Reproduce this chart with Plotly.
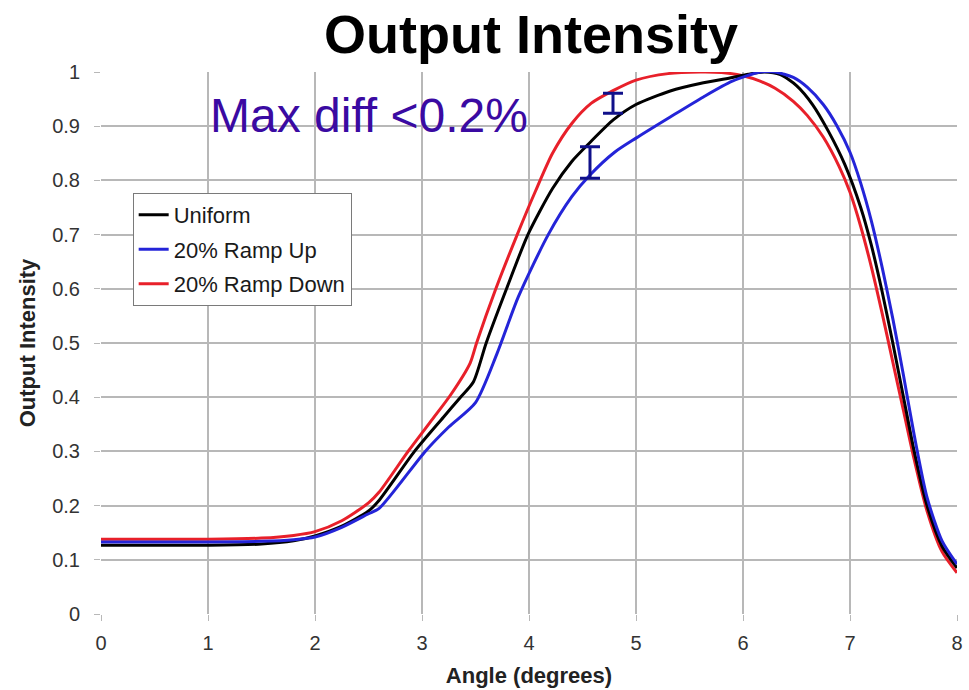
import plotly.graph_objects as go

# Angle (degrees) / output intensity samples for each illumination profile
uniform_x = [0, 0.5, 1.0, 1.5, 1.8, 2.0, 2.25, 2.5, 2.6, 2.93, 3.2, 3.36, 3.48, 3.6, 3.79, 3.99,
             4.22, 4.4, 4.57, 4.79, 5.0, 5.32, 5.63, 5.9, 6.05, 6.2, 6.35, 6.5, 6.65, 6.8, 6.95,
             7.1, 7.2, 7.3, 7.4, 7.5, 7.6, 7.72, 7.86, 8.0]
uniform_y = [0.127, 0.127, 0.127, 0.129, 0.135, 0.144, 0.162, 0.19, 0.21, 0.30, 0.363, 0.40, 0.428,
             0.50, 0.60, 0.70, 0.785, 0.835, 0.87, 0.912, 0.94, 0.965, 0.98, 0.99, 0.996, 1.0,
             0.995, 0.975, 0.94, 0.89, 0.83, 0.75, 0.68, 0.595, 0.50, 0.40, 0.30, 0.20, 0.125, 0.085]

ramp_up_x = [0, 0.5, 1.0, 1.5, 1.8, 2.0, 2.25, 2.5, 2.6, 3.03, 3.25, 3.5, 3.7, 3.9, 4.18, 4.4,
             4.57, 4.8, 5.0, 5.32, 5.63, 5.9, 6.16, 6.3, 6.47, 6.6, 6.75, 6.88, 7.0, 7.1, 7.2, 7.3,
             7.4, 7.5, 7.6, 7.72, 7.86, 8.0]
ramp_up_y = [0.133, 0.133, 0.133, 0.134, 0.137, 0.142, 0.16, 0.185, 0.195, 0.30, 0.345, 0.39, 0.48,
             0.585, 0.70, 0.77, 0.81, 0.852, 0.878, 0.917, 0.954, 0.983, 1.0, 1.0, 0.99, 0.972,
             0.94, 0.90, 0.852, 0.795, 0.725, 0.64, 0.545, 0.44, 0.33, 0.215, 0.135, 0.092]

ramp_down_x = [0, 0.5, 1.0, 1.5, 1.8, 2.0, 2.25, 2.5, 2.6, 2.87, 3.1, 3.27, 3.45, 3.51, 3.69, 3.89,
               4.06, 4.22, 4.4, 4.58, 4.79, 5.0, 5.3, 5.6, 5.8, 6.0, 6.16, 6.3, 6.47, 6.6, 6.75,
               6.9, 7.0, 7.1, 7.2, 7.3, 7.4, 7.5, 7.6, 7.72, 7.86, 8.0]
ramp_down_y = [0.138, 0.138, 0.138, 0.14, 0.145, 0.152, 0.172, 0.205, 0.225, 0.30, 0.36, 0.405,
               0.463, 0.50, 0.60, 0.70, 0.78, 0.85, 0.905, 0.942, 0.966, 0.985, 0.997, 1.0, 0.999,
               0.993, 0.983, 0.97, 0.946, 0.92, 0.88, 0.825, 0.778, 0.715, 0.64, 0.555, 0.465,
               0.375, 0.285, 0.19, 0.115, 0.076]

# Difference brackets: angle, upper and lower intensity of each bracket
diff_x = [4.785, 4.57]
diff_top = [0.961, 0.862]
diff_bottom = [0.924, 0.804]

x_ticks = [0, 1, 2, 3, 4, 5, 6, 7, 8]
y_ticks = [0, 0.1, 0.2, 0.3, 0.4, 0.5, 0.6, 0.7, 0.8, 0.9, 1]
y_tick_text = ["0", "0.1", "0.2", "0.3", "0.4", "0.5", "0.6", "0.7", "0.8", "0.9", "1"]

GRID = "#b8b8b8"
FONT = "Liberation Sans, Arial, sans-serif"

fig = go.Figure()

series = [
    ("20% Ramp Down", ramp_down_x, ramp_down_y, "#e8202a", 3),
    ("Uniform", uniform_x, uniform_y, "#000000", 1),
    ("20% Ramp Up", ramp_up_x, ramp_up_y, "#2424d8", 2),
]
for name, xs, ys, color, rank in series:
    fig.add_trace(go.Scatter(
        x=xs, y=ys, name=name, mode="lines",
        line=dict(color=color, width=3, shape="spline", smoothing=0.7),
        legendrank=rank, legendgroup=name,
    ))

# Bracketed difference markers
mid = [(t + b) / 2 for t, b in zip(diff_top, diff_bottom)]
fig.add_trace(go.Scatter(
    x=diff_x, y=mid, mode="markers", showlegend=False,
    marker=dict(size=1, color="rgba(0,0,0,0)"),
    error_y=dict(type="data", symmetric=False,
                 array=[t - m for t, m in zip(diff_top, mid)],
                 arrayminus=[m - b for m, b in zip(mid, diff_bottom)],
                 color="#10108a", thickness=3, width=10),
    hoverinfo="skip",
))

fig.add_annotation(
    x=1.0, y=0.919, xref="x", yref="y", text="Max diff <0.2%",
    showarrow=False, xanchor="left", yanchor="middle",
    font=dict(family=FONT, size=48, color="#3a0aa2"),
)

fig.update_layout(
    width=969, height=690,
    margin=dict(l=101, r=12, t=72, b=76),
    paper_bgcolor="white", plot_bgcolor="white",
    title=dict(text="<b>Output Intensity</b>", x=0.548, xanchor="center",
               y=0.95, yanchor="middle", yref="container",
               font=dict(family=FONT, size=54, color="#000000")),
    showlegend=True,
    legend=dict(x=0.037, y=0.777, xanchor="left", yanchor="top",
                bgcolor="white", bordercolor="#7a7a7a", borderwidth=1,
                font=dict(family=FONT, size=22, color="#1a1a1a"),
                tracegroupgap=3, itemwidth=30),
    xaxis=dict(range=[0, 8], tickvals=x_ticks, ticktext=[str(t) for t in x_ticks],
               showgrid=True, gridcolor=GRID, gridwidth=1.5, zeroline=False,
               ticks="outside", ticklen=6, tickcolor=GRID, showline=False,
               ticklabelstandoff=5, automargin=False,
               tickfont=dict(family=FONT, size=20, color="#333333"),
               title=dict(text="<b>Angle (degrees)</b>", standoff=14,
                          font=dict(family=FONT, size=22, color="#222222"))),
    yaxis=dict(range=[0, 1], tickvals=y_ticks, ticktext=y_tick_text,
               showgrid=True, gridcolor=GRID, gridwidth=1.5, zeroline=False,
               ticks="outside", ticklen=6, tickcolor=GRID, showline=False,
               ticklabelstandoff=10, automargin=False,
               tickfont=dict(family=FONT, size=20, color="#333333"),
               title=dict(text="<b>Output Intensity</b>", standoff=10,
                          font=dict(family=FONT, size=22, color="#222222"))),
)

fig.write_html("out.html")
